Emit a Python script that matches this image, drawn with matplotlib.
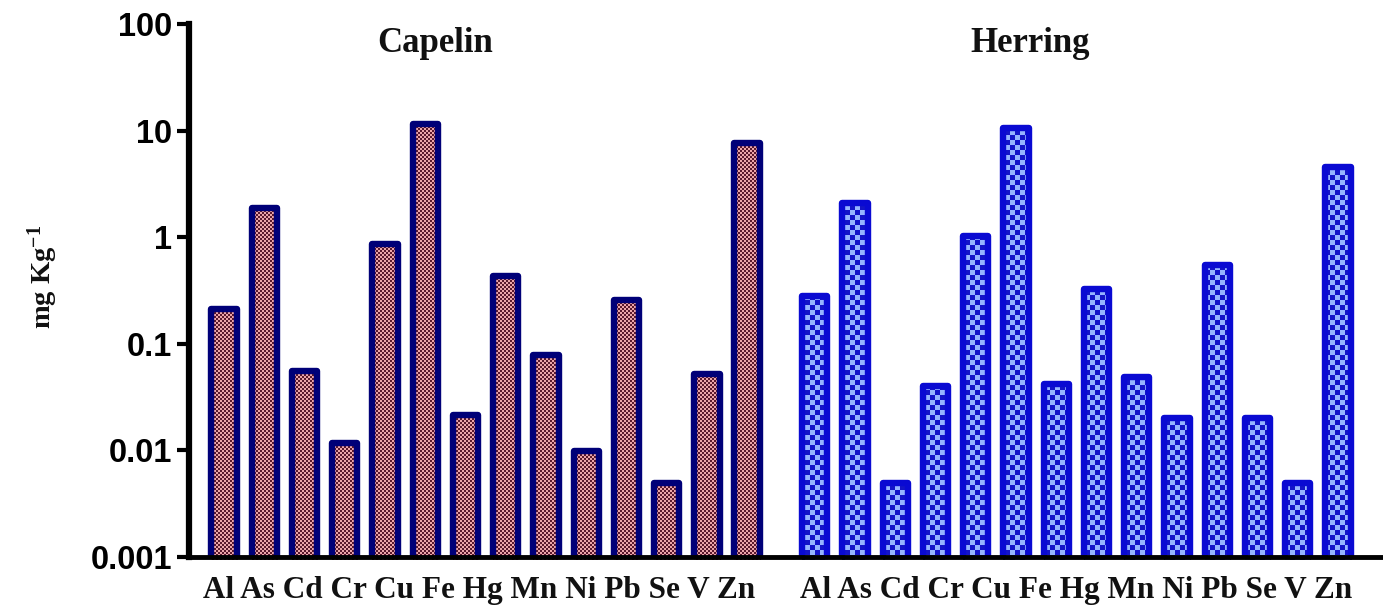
import numpy as np
import matplotlib
matplotlib.use("Agg")
import matplotlib.pyplot as plt

# data (mg/kg, log scale)
elements = ["Al", "As", "Cd", "Cr", "Cu", "Fe", "Hg", "Mn", "Ni", "Pb", "Se", "V", "Zn"]
capelin = [0.21, 1.88, 0.055, 0.0118, 0.86, 11.5, 0.0216, 0.43, 0.078, 0.0099, 0.26, 0.0049, 0.052, 7.6]
herring = [0.28, 2.09, 0.0049, 0.040, 1.03, 10.6, 0.042, 0.33, 0.049, 0.020, 0.55, 0.020, 0.0049, 4.6]
yticks = [0.001, 0.01, 0.1, 1, 10, 100]
yticklabels = ["0.001", "0.01", "0.1", "1", "10", "100"]

plt.rcParams["mathtext.fontset"] = "custom"
plt.rcParams["mathtext.rm"] = "Liberation Serif:bold"
plt.rcParams["mathtext.it"] = "Liberation Serif:bold"
plt.rcParams["mathtext.bf"] = "Liberation Serif:bold"

W, H = 1383, 605
fig = plt.figure(figsize=(W / 100, H / 100), dpi=100)
ax = fig.add_axes([189 / W, 1 - 557 / H, 1 - 189 / W, (557 - 24) / H])
ax.patch.set_alpha(0)

x_cap = np.arange(len(capelin))
x_her = np.arange(len(herring)) + len(capelin) + 0.68

# bars start just under the axis floor so the spine hides their bottom edge
floor = 0.00096
cap_h = np.array(capelin) - floor
her_h = np.array(herring) - floor
bars_c = ax.bar(x_cap, cap_h, bottom=floor, width=0.63, facecolor="none",
                edgecolor="#000078", linewidth=4.6, joinstyle="round", zorder=2)
bars_h = ax.bar(x_her, her_h, bottom=floor, width=0.63, facecolor="none",
                edgecolor="#0a0ad2", linewidth=4.6, joinstyle="round", zorder=2)

ax.set_yscale("log")
ax.set_ylim(0.001, 100)
ax.set_xlim(-0.87, x_her[-1] + 1.12)


# checkerboard fill, clipped to each bar
def checker(cell, c1, c2):
    yy, xx = np.mgrid[0:H, 0:W]
    m = ((xx // cell + yy // cell) % 2).astype(bool)
    img = np.empty((H, W, 3))
    img[m] = np.array(c2) / 255
    img[~m] = np.array(c1) / 255
    return img


tex_c = checker(2, (236, 165, 170), (90, 25, 45))
tex_h = checker(5, (150, 180, 255), (20, 20, 200))
for bars, tex in [(bars_c, tex_c), (bars_h, tex_h)]:
    for b in bars:
        im = fig.figimage(tex, zorder=-1)
        im.set_clip_path(b)

ax.set_yticks(yticks)
ax.set_yticklabels(yticklabels, fontfamily="Liberation Sans", fontweight="bold", fontsize=23.5)
ax.minorticks_off()
ax.tick_params(axis="y", length=9, width=3, pad=3)
ax.set_xticks([])
ax.spines["top"].set_visible(False)
ax.spines["right"].set_visible(False)
ax.spines["left"].set_linewidth(4.5)
ax.spines["bottom"].set_linewidth(3.5)
for s in ax.spines.values():
    s.set_zorder(3)

serif = dict(fontfamily="Liberation Serif", fontweight="bold", color="#111111")
fig.text(43 / W, 1 - 277 / H, r"mg Kg$^{-1}$", rotation=90, ha="center", va="center",
         fontsize=20.5, **serif)
fig.text(435 / W, 1 - 44 / H, "Capelin", ha="center", va="center", fontsize=25, **serif)
fig.text(1030 / W, 1 - 44 / H, "Herring", ha="center", va="center", fontsize=25, **serif)

label_str = " ".join(elements)
fig.text(479 / W, 1 - 598 / H, label_str, ha="center", va="baseline", fontsize=22.5, **serif)
fig.text(1076 / W, 1 - 598 / H, label_str, ha="center", va="baseline", fontsize=22.5, **serif)

fig.savefig("out.png", dpi=100)
